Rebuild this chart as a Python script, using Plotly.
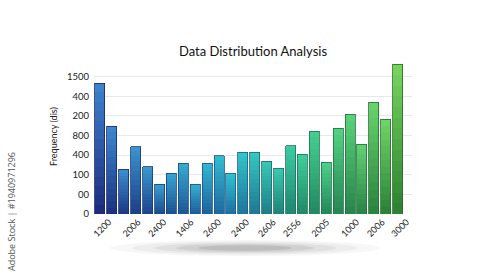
import plotly.graph_objects as go
import numpy as np

# ---- data (in gridline units; axis labels are the chart's own tick text) ----
values = [6.67, 4.48, 2.27, 3.44, 2.42, 1.51, 2.07, 2.58, 1.51, 2.58, 2.98, 2.07, 3.14,
          3.14, 2.68, 2.32, 3.49, 3.04, 4.21, 2.63, 4.36, 5.08, 3.55, 5.69, 4.82, 7.63]
y_tick_text = ["0", "00", "100", "400", "800", "200", "400", "1500"]
x_tick_text = ["1200", "2006", "2400", "1406", "2600", "2400", "2606", "2556",
               "2005", "1000", "2006", "3000"]
x_tick_pos = [0.75, 3.2, 5.35, 7.65, 9.95, 12.3, 14.55, 16.65, 19.05, 21.55, 23.7, 25.75]

n = len(values)
idx = list(range(n))

def hex2rgb(h):
    h = h.lstrip("#")
    return np.array([int(h[i:i + 2], 16) for i in (0, 2, 4)], dtype=float)

def interp(stops, t):
    for (t0, c0), (t1, c1) in zip(stops[:-1], stops[1:]):
        if t0 <= t <= t1:
            f = (t - t0) / (t1 - t0)
            return hex2rgb(c0) * (1 - f) + hex2rgb(c1) * f
    return hex2rgb(stops[-1][1])

top_stops = [(0, "#3f84d0"), (0.45, "#30c4d2"), (0.68, "#3fcf98"), (1, "#78d65e")]
bot_stops = [(0, "#1b2a7c"), (0.45, "#1e70a4"), (0.68, "#1f8a66"), (1, "#2b7f30")]

def rgb(c):
    return "rgb(%d,%d,%d)" % tuple(np.clip(c, 0, 255).round().astype(int))

tops = [interp(top_stops, i / (n - 1)) for i in idx]
bots = [interp(bot_stops, i / (n - 1)) for i in idx]

fig = go.Figure()
NSEG = 14
for k in range(NSEG):
    f = (k + 0.5) / NSEG  # 0 bottom -> 1 top
    cols = [rgb(bots[i] * (1 - f) + tops[i] * f) for i in idx]
    fig.add_trace(go.Bar(x=idx, y=[v / NSEG for v in values], marker=dict(color=cols, line=dict(width=0)),
                         showlegend=False, hoverinfo="skip"))

# outline overlay on a twin axis so it does not stack
edge = [rgb(bots[i] * 0.85) for i in idx]
fig.add_trace(go.Bar(x=idx, y=values, xaxis="x2", marker=dict(color="rgba(0,0,0,0)",
                     line=dict(color=edge, width=0.8)), showlegend=False, hoverinfo="skip"))

fig.update_layout(
    width=500, height=273,
    margin=dict(l=94, r=88, t=59, b=59),
    paper_bgcolor="white", plot_bgcolor="white",
    barmode="stack", bargap=0.16,
    font=dict(family="Lato", color="#222"),
    title=dict(text="Data Distribution Analysis", x=0.5, xref="paper", xanchor="center",
               y=0.81, yanchor="middle", font=dict(size=13, color="#111", family="Lato")),
    xaxis=dict(range=[-0.5, 26.2], showgrid=False, zeroline=False, showline=False,
               tickmode="array", tickvals=x_tick_pos, ticktext=x_tick_text, tickangle=-45,
               ticks="", tickfont=dict(size=9, color="#222")),
    xaxis2=dict(range=[-0.5, 26.2], overlaying="x", visible=False, matches="x"),
    yaxis=dict(range=[0, 7.9], tickmode="array", tickvals=list(range(8)), ticktext=y_tick_text,
               showgrid=True, gridcolor="#e8e8e8", gridwidth=1, zeroline=False, showline=False,
               ticks="", tickfont=dict(size=9.5, color="#222"), ticklabelstandoff=4,
               title=dict(text="Frequency (dis)", font=dict(size=9, color="#222"), standoff=7)),
)

# soft floor shadow
for i, op in enumerate([0.04, 0.05, 0.07, 0.09, 0.12]):
    w = 135 - i * 22
    h = 8 - i * 1.3
    fig.add_shape(type="circle", xref="paper", yref="paper", layer="below",
                  x0=(245 - w - 94) / 318, x1=(245 + w - 94) / 318,
                  y0=(214 - (248 + h)) / 155, y1=(214 - (248 - h)) / 155,
                  fillcolor="rgba(60,60,60,%.2f)" % op, line=dict(width=0))

fig.add_annotation(text="Adobe Stock | #1940971296", textangle=-90, xref="paper", yref="paper",
                   x=(11 - 94) / 318, y=(214 - 212) / 155, xanchor="center", yanchor="middle",
                   showarrow=False, font=dict(size=9, color="#555", family="Open Sans"))

fig.write_html("out.html")
